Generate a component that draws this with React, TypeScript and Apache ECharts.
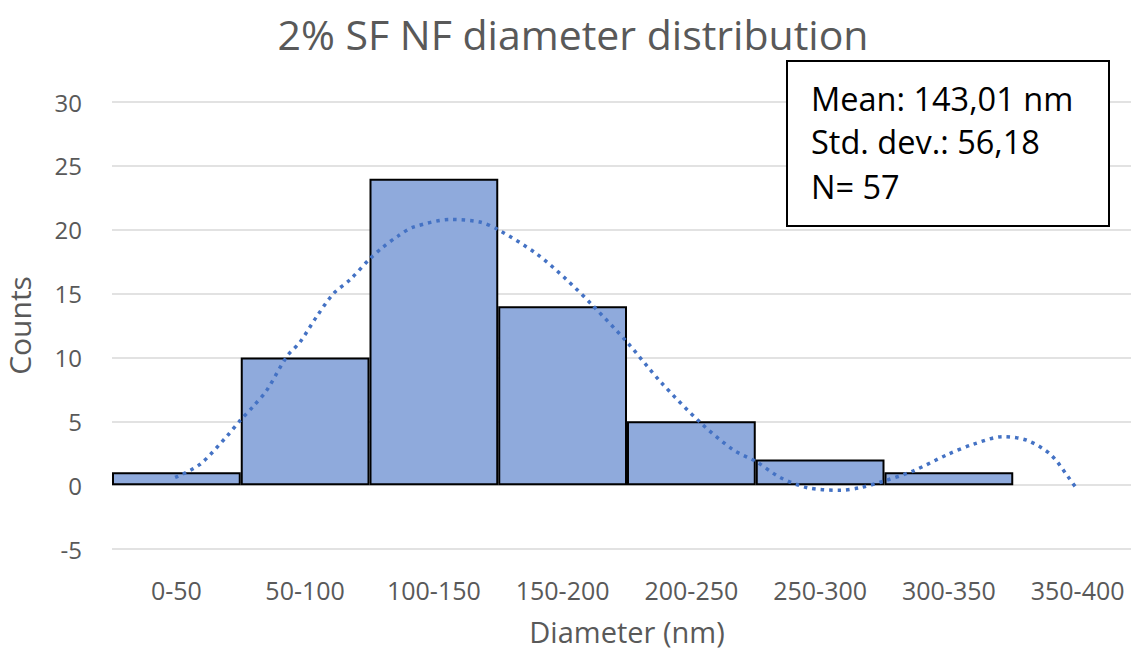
import React, { useEffect, useRef } from "react";
import * as echarts from "echarts";

const categories = ["0-50", "50-100", "100-150", "150-200", "200-250", "250-300", "300-350", "350-400"];
const counts = [1, 10, 24, 14, 5, 2, 1, 0];
// Trendline: [diameter (nm), count]
const trendX = [24.5, 34, 44.5, 49.5, 55, 60, 68, 73, 79.5, 86, 92.5, 100, 105, 111, 117, 131.5, 143, 150, 165, 176.5, 187, 200, 213, 228.5, 241, 250.5, 259.5, 270, 282.5, 290.5, 299.5, 311, 324.5, 334.5, 346, 355.5, 364.5, 371.5, 374];
const trendY = [0.6, 1.6, 3.8, 5.0, 6.2, 7.4, 10.1, 11.2, 13.2, 15.0, 16.1, 17.7, 18.6, 19.5, 20.2, 20.8, 20.6, 20.0, 18.1, 16.1, 14.0, 11.2, 8.1, 4.9, 2.8, 1.8, 0.6, -0.2, -0.4, -0.2, 0.3, 1.1, 2.4, 3.2, 3.8, 3.5, 2.4, 0.6, -0.1];
const statLines = ["Mean: 143,01 nm", "Std. dev.: 56,18", "N= 57"];

const FONT = "'Open Sans', sans-serif";
const GREY = "#595959";

export default function App() {
  const ref = useRef<HTMLDivElement>(null);
  useEffect(() => {
    if (!ref.current) return;
    const chart = echarts.init(ref.current, null, { renderer: "svg" });
    const trend = trendX.map((x, i) => [x, trendY[i]]);
    const barData = counts.map((v) => (v === 0 ? { value: v, itemStyle: { borderWidth: 0, opacity: 0 } } : v));
    chart.setOption({
      animation: false,
      backgroundColor: "#ffffff",
      textStyle: { fontFamily: FONT },
      title: {
        text: "2% SF NF diameter distribution",
        left: 568,
        top: 8,
        textAlign: "center",
        textStyle: { fontFamily: FONT, fontSize: 41, fontWeight: "normal", color: GREY },
      },
      grid: { left: 112, top: 102, width: 1030, height: 447, outerBoundsMode: "none" },
      xAxis: [
        {
          type: "category",
          data: categories,
          boundaryGap: true,
          axisLine: { show: false },
          axisTick: { show: false },
          axisLabel: { margin: 28, fontSize: 25, color: GREY, fontFamily: FONT, interval: 0 },
          name: "Diameter (nm)",
          nameLocation: "middle",
          nameGap: 68,
          nameTextStyle: { fontSize: 29, color: GREY, fontFamily: FONT },
        },
        { type: "value", min: 0, max: 400, show: false },
      ],
      yAxis: {
        type: "value",
        min: -5,
        max: 30,
        interval: 5,
        axisLine: { show: false },
        axisTick: { show: false },
        axisLabel: { margin: 30, fontSize: 24, color: GREY, fontFamily: FONT },
        splitLine: { lineStyle: { color: "#d9d9d9", width: 1.5 } },
        name: "Counts",
        nameLocation: "middle",
        nameGap: 78,
        nameRotate: 90,
        nameTextStyle: { fontSize: 30, color: GREY, fontFamily: FONT },
      },
      series: [
        {
          type: "bar",
          data: barData,
          barWidth: "100%",
          itemStyle: { color: "#8faadc", borderColor: "#000000", borderWidth: 2 },
        },
        {
          type: "line",
          xAxisIndex: 1,
          data: trend,
          smooth: 0.3,
          showSymbol: false,
          lineStyle: { color: "#4472c4", width: 3.5, type: [3.5, 5] },
          z: 5,
        },
      ],
      graphic: [
        {
          type: "rect",
          shape: { x: 787, y: 61, width: 322, height: 165 },
          style: { fill: "#ffffff", stroke: "#000000", lineWidth: 2 },
          z: 10,
        },
        ...statLines.map((t, i) => ({
          type: "text",
          x: 811,
          y: [98, 141, 186][i],
          style: { text: t, fontSize: 32.5, fontFamily: FONT, fill: "#000000", verticalAlign: "middle", align: "left" },
          z: 11,
        })),
      ],
    });
    return () => chart.dispose();
  }, []);
  return <div ref={ref} style={{ position: "absolute", left: 0, top: 0, width: 1131, height: 654 }} />;
}
